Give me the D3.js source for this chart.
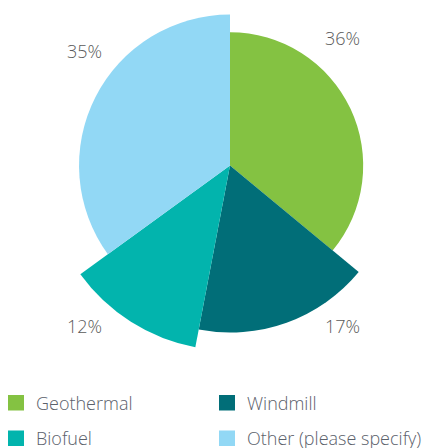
<!DOCTYPE html>
<html>
<head>
<meta charset="utf-8">
<script src="https://cdn.jsdelivr.net/npm/d3@7"></script>
<style>
  html, body { margin: 0; padding: 0; background: #fff; }
  svg { display: block; }
  text { font-family: "Open Sans", "Noto Sans", sans-serif; font-weight: 300; }
</style>
</head>
<body>
<svg id="chart" width="429" height="448"></svg>
<script>
// Share of respondents per energy source
const categories = ["Geothermal", "Windmill", "Biofuel", "Other (please specify)"];
const shares = [36, 17, 12, 35];
// Relative reach of each wedge (1 = longest wedge)
const reach = [0.72, 0.903, 1.0, 0.816];
const colors = ["#84c242", "#016e78", "#02b4ad", "#92d8f5"];

const svg = d3.select("#chart");
const cx = 230, cy = 165.5;
const maxRadius = 185;

const radius = d3.scaleLinear().domain([0, 1]).range([0, maxRadius]);

const pie = d3.pie().sort(null).value(d => d.share);
const arcs = pie(categories.map((c, i) => ({ name: c, share: shares[i], reach: reach[i], color: colors[i] })));

const arc = d3.arc()
  .innerRadius(0)
  .outerRadius(d => radius(d.data.reach));

const g = svg.append("g").attr("transform", `translate(${cx},${cy})`);
g.selectAll("path")
  .data(arcs)
  .join("path")
  .attr("d", arc)
  .attr("fill", d => d.data.color);

// Percentage labels sit in the four corners around the pie
const labelSpots = [
  { x: 360, y: 45, anchor: "end" },
  { x: 360, y: 333, anchor: "end" },
  { x: 67, y: 333, anchor: "start" },
  { x: 67, y: 58, anchor: "start" }
];
svg.selectAll("text.pct")
  .data(arcs)
  .join("text")
  .attr("class", "pct")
  .attr("x", (d, i) => labelSpots[i].x)
  .attr("y", (d, i) => labelSpots[i].y)
  .attr("text-anchor", (d, i) => labelSpots[i].anchor)
  .attr("font-size", 18)
  .attr("fill", "#5a5a5a")
  .text(d => d.data.share + "%");

// Legend: two columns, two rows
const legend = svg.append("g");
const items = legend.selectAll("g")
  .data(arcs)
  .join("g")
  .attr("transform", (d, i) => `translate(${i % 2 === 0 ? 8 : 219},${395 + Math.floor(i / 2) * 35.5})`);
items.append("rect")
  .attr("width", 16)
  .attr("height", 15.5)
  .attr("fill", d => d.data.color);
items.append("text")
  .attr("x", 28)
  .attr("y", 14.5)
  .attr("font-size", 18)
  .attr("fill", "#5b616b")
  .text(d => d.data.name);
</script>
</body>
</html>
